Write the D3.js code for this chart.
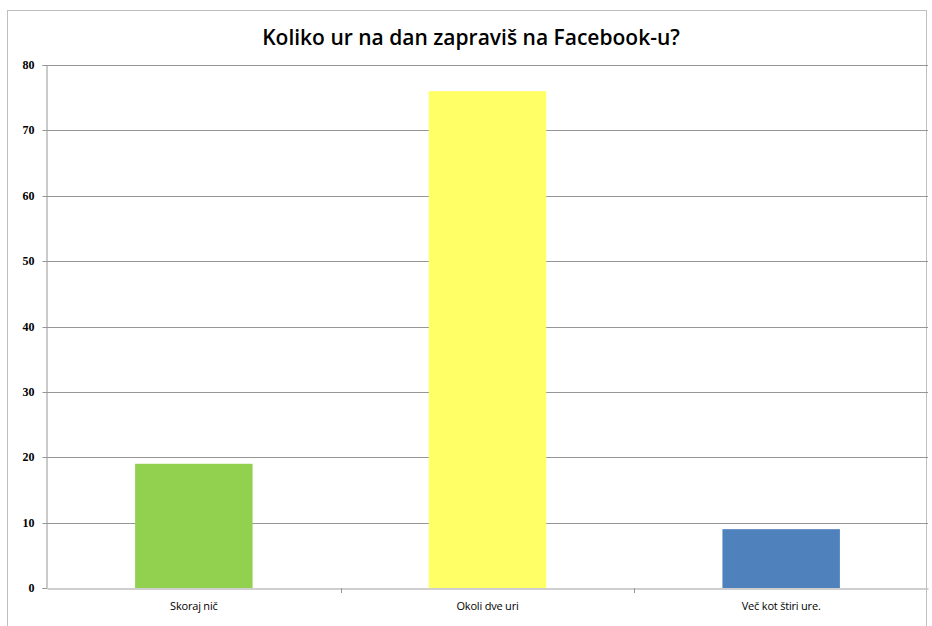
<!DOCTYPE html>
<html>
<head>
<meta charset="utf-8">
<script src="https://cdn.jsdelivr.net/npm/d3@7"></script>
<style>
  html, body { margin: 0; padding: 0; background: #fff; }
  svg { display: block; }
</style>
</head>
<body>
<svg id="chart" width="932" height="626"></svg>
<script>
const categories = ["Skoraj nič", "Okoli dve uri", "Več kot štiri ure."];
const values = [19, 76, 9];
const barColors = ["#92D050", "#FFFF66", "#4F81BD"];
const yTicks = [0, 10, 20, 30, 40, 50, 60, 70, 80];
const title = "Koliko ur na dan zapraviš na Facebook-u?";

const svg = d3.select("#chart");
const W = 932, H = 626;
const margin = { left: 46, right: 4, top: 65, bottom: 38 };
const plotW = W - margin.left - margin.right;
const plotH = H - margin.top - margin.bottom;

// outer frame
svg.append("rect")
  .attr("x", 7.5).attr("y", 10.5)
  .attr("width", 919).attr("height", 630)
  .attr("fill", "none").attr("stroke", "#BFBFBF").attr("stroke-width", 1);

const x = d3.scaleBand().domain(categories).range([margin.left + 1, margin.left + plotW]).padding(0);
const y = d3.scaleLinear().domain([0, 80]).range([margin.top + plotH, margin.top]);

// gridlines
svg.append("g").selectAll("line").data(yTicks.filter(d => d > 0)).join("line")
  .attr("x1", margin.left).attr("x2", margin.left + plotW)
  .attr("y1", d => Math.round(y(d)) + 0.5).attr("y2", d => Math.round(y(d)) + 0.5)
  .attr("stroke", "#969696").attr("stroke-width", 1);

// bars
svg.append("g").selectAll("rect").data(categories).join("rect")
  .attr("x", d => x(d) + x.bandwidth() * 0.3)
  .attr("width", x.bandwidth() * 0.4)
  .attr("y", (d, i) => y(values[i]))
  .attr("height", (d, i) => y(0) - y(values[i]))
  .attr("fill", (d, i) => barColors[i]);

// y axis
const yAxis = d3.axisLeft(y).tickValues(yTicks).tickSize(4).tickPadding(8);
const gy = svg.append("g").attr("transform", `translate(${margin.left + 0.5},0)`).call(yAxis);
gy.select(".domain").attr("stroke", "#969696");
gy.selectAll(".tick line").attr("stroke", "#969696");
gy.selectAll(".tick text")
  .attr("font-family", "'Liberation Serif', serif")
  .attr("font-size", 12).attr("font-weight", "bold").attr("fill", "#000");
gy.selectAll(".tick").attr("transform", d => `translate(0,${Math.round(y(d)) + 0.5})`);

// x axis
const xAxis = d3.axisBottom(x).tickSize(0).tickPadding(14);
const gx = svg.append("g").attr("transform", `translate(0,${Math.round(y(0)) + 0.5})`).call(xAxis);
gx.select(".domain").attr("stroke", "#BFBFBF").attr("stroke-width", 1.5);
gx.selectAll(".tick text")
  .attr("font-family", "'Open Sans', sans-serif")
  .attr("font-size", 11).attr("fill", "#000").attr("letter-spacing", -0.2);
// category separators
svg.append("g").selectAll("line").data(categories.slice(1)).join("line")
  .attr("x1", d => Math.round(x(d)) + 0.5).attr("x2", d => Math.round(x(d)) + 0.5)
  .attr("y1", Math.round(y(0))).attr("y2", Math.round(y(0)) + 5)
  .attr("stroke", "#969696");

// title
svg.append("text")
  .attr("x", 471).attr("y", 45)
  .attr("text-anchor", "middle")
  .attr("font-family", "'Open Sans', sans-serif")
  .attr("font-size", 21).attr("font-weight", "600")
  .attr("letter-spacing", 0)
  .attr("fill", "#000")
  .text(title);
</script>
</body>
</html>
